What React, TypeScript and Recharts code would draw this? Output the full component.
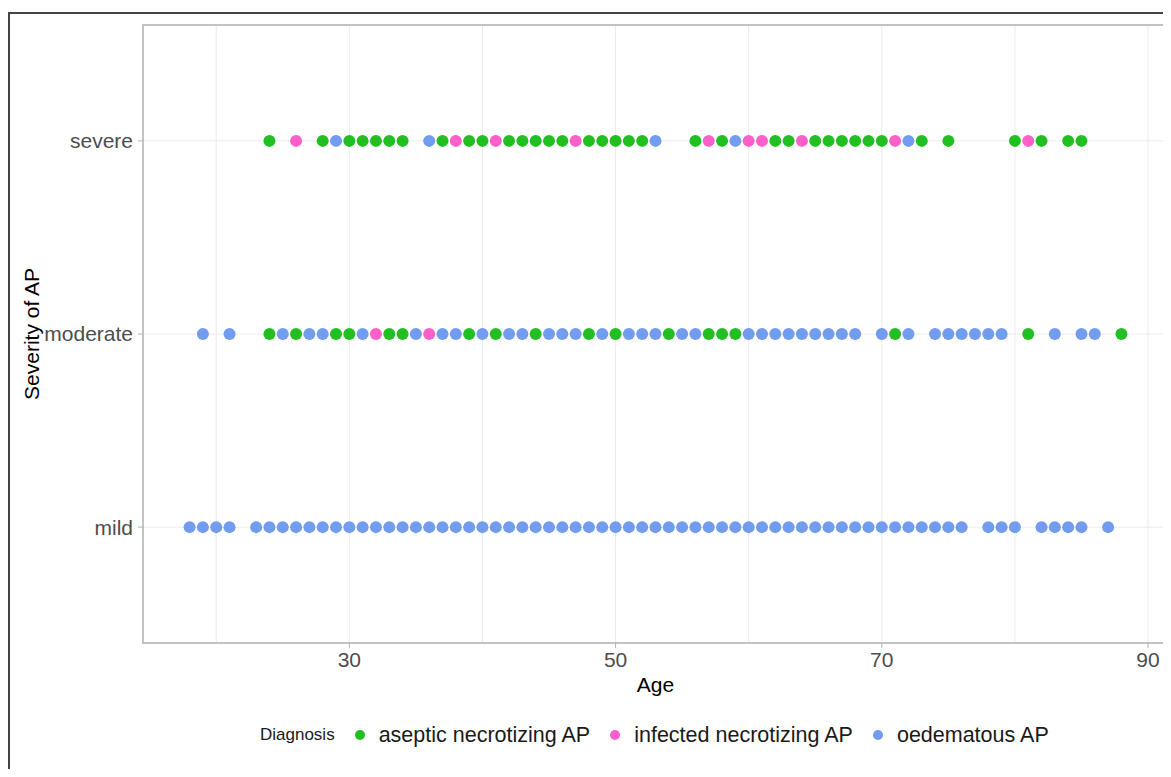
import React from "react";
import {
  ScatterChart,
  Scatter,
  XAxis,
  YAxis,
  CartesianGrid,
  ReferenceArea,
} from "recharts";

// ages per severity / diagnosis
const severeAseptic = [24, 28, 30, 31, 32, 33, 34, 37, 39, 40, 42, 43, 44, 45, 46, 48, 49, 50, 51, 52, 56, 58, 62, 63, 65, 66, 67, 68, 69, 70, 73, 75, 80, 82, 84, 85];
const severeInfected = [26, 38, 41, 47, 57, 60, 61, 64, 71, 81];
const severeOedematous = [29, 36, 53, 59, 72];

const moderateAseptic = [24, 26, 29, 30, 33, 34, 39, 41, 44, 48, 50, 54, 57, 58, 59, 71, 81, 88];
const moderateInfected = [32, 36];
const moderateOedematous = [19, 21, 25, 27, 28, 31, 35, 37, 38, 40, 42, 43, 45, 46, 47, 49, 51, 52, 53, 55, 56, 60, 61, 62, 63, 64, 65, 66, 67, 68, 70, 72, 74, 75, 76, 77, 78, 79, 83, 85, 86];

const mildOedematous = [18, 19, 20, 21, 23, 24, 25, 26, 27, 28, 29, 30, 31, 32, 33, 34, 35, 36, 37, 38, 39, 40, 41, 42, 43, 44, 45, 46, 47, 48, 49, 50, 51, 52, 53, 54, 55, 56, 57, 58, 59, 60, 61, 62, 63, 64, 65, 66, 67, 68, 69, 70, 71, 72, 73, 74, 75, 76, 78, 79, 80, 82, 83, 84, 85, 87];

const severityLabels = ["mild", "moderate", "severe"];
const xTicks = [20, 30, 40, 50, 60, 70, 80, 90];
const xLabelled = [30, 50, 70, 90];

const GREEN = "#22BF22";
const PINK = "#FF5FC8";
const BLUE = "#729CF0";

const pts = (ages: number[], level: number) => ages.map((a) => ({ x: a, y: level }));

const asepticData = [...pts(severeAseptic, 3), ...pts(moderateAseptic, 2)];
const infectedData = [...pts(severeInfected, 3), ...pts(moderateInfected, 2)];
const oedematousData = [
  ...pts(severeOedematous, 3),
  ...pts(moderateOedematous, 2),
  ...pts(mildOedematous, 1),
];

const dot = (color: string) => (p: any) => (
  <circle cx={p.cx} cy={p.cy} r={6} fill={color} />
);

const XTick = (props: any) => {
  const { x, y, payload } = props;
  if (!xLabelled.includes(payload.value)) return <g />;
  return (
    <g>
      <line x1={x} x2={x} y1={y - 9} y2={y - 4} stroke="#b3b3b3" />
      <text x={x} y={y} dy="0.71em" textAnchor="middle" fontSize={21} fill="#4d4d4d">
        {payload.value}
      </text>
    </g>
  );
};

const font = "'Liberation Sans', Arial, sans-serif";

const legendItems = [
  { name: "aseptic necrotizing AP", color: GREEN },
  { name: "infected necrotizing AP", color: PINK },
  { name: "oedematous AP", color: BLUE },
];

export default function App() {
  return (
    <div
      style={{
        position: "relative",
        marginTop: 4,
        width: 1163,
        height: 757,
        boxSizing: "border-box",
        borderLeft: "2px solid #444",
        borderTop: "2px solid #444",
        fontFamily: font,
        background: "#fff",
      }}
    >
      <ScatterChart
        width={1161}
        height={745}
        margin={{ top: 11, right: 3, left: 0, bottom: 66 }}
        style={{ fontFamily: font }}
      >
        <CartesianGrid stroke="#ebebeb" strokeWidth={1} />
        <XAxis
          type="number"
          dataKey="x"
          domain={[14.5, 91.5]}
          ticks={xTicks}
          interval={0}
          axisLine={false}
          tickLine={false}
          tickSize={5}
          tickMargin={4}
          height={50}
          tick={<XTick />}
          label={{ value: "Age", position: "insideBottom", offset: 1, fontSize: 21, fill: "#000" }}
        />
        <YAxis
          type="number"
          dataKey="y"
          domain={[0.4, 3.6]}
          ticks={[1, 2, 3]}
          interval={0}
          width={133}
          axisLine={false}
          tickLine={{ stroke: "#b3b3b3" }}
          tickSize={5}
          tickMargin={5}
          tick={{ fontSize: 21, fill: "#4d4d4d" }}
          tickFormatter={(v: number) => severityLabels[v - 1]}
          label={{
            value: "Severity of AP",
            angle: -90,
            position: "insideLeft",
            offset: 22,
            fontSize: 21,
            fill: "#000",
            style: { textAnchor: "middle" },
          }}
        />
        <ReferenceArea x1={14.5} x2={91.5} y1={0.4} y2={3.6} fill="none" stroke="#b3b3b3" strokeWidth={1.5} />
        <Scatter name="aseptic necrotizing AP" data={asepticData} shape={dot(GREEN)} isAnimationActive={false} />
        <Scatter name="infected necrotizing AP" data={infectedData} shape={dot(PINK)} isAnimationActive={false} />
        <Scatter name="oedematous AP" data={oedematousData} shape={dot(BLUE)} isAnimationActive={false} />
      </ScatterChart>
      <div
        style={{
          position: "absolute",
          left: 250,
          top: 709,
          height: 24,
          display: "flex",
          alignItems: "center",
          color: "#1a1a1a",
        }}
      >
        <span style={{ fontSize: 17 }}>Diagnosis</span>
        {legendItems.map((it) => (
          <React.Fragment key={it.name}>
            <span
              style={{
                display: "inline-block",
                width: 10,
                height: 10,
                borderRadius: 5,
                background: it.color,
                marginLeft: 20,
                marginRight: 14,
              }}
            />
            <span style={{ fontSize: 21.5 }}>{it.name}</span>
          </React.Fragment>
        ))}
      </div>
    </div>
  );
}
